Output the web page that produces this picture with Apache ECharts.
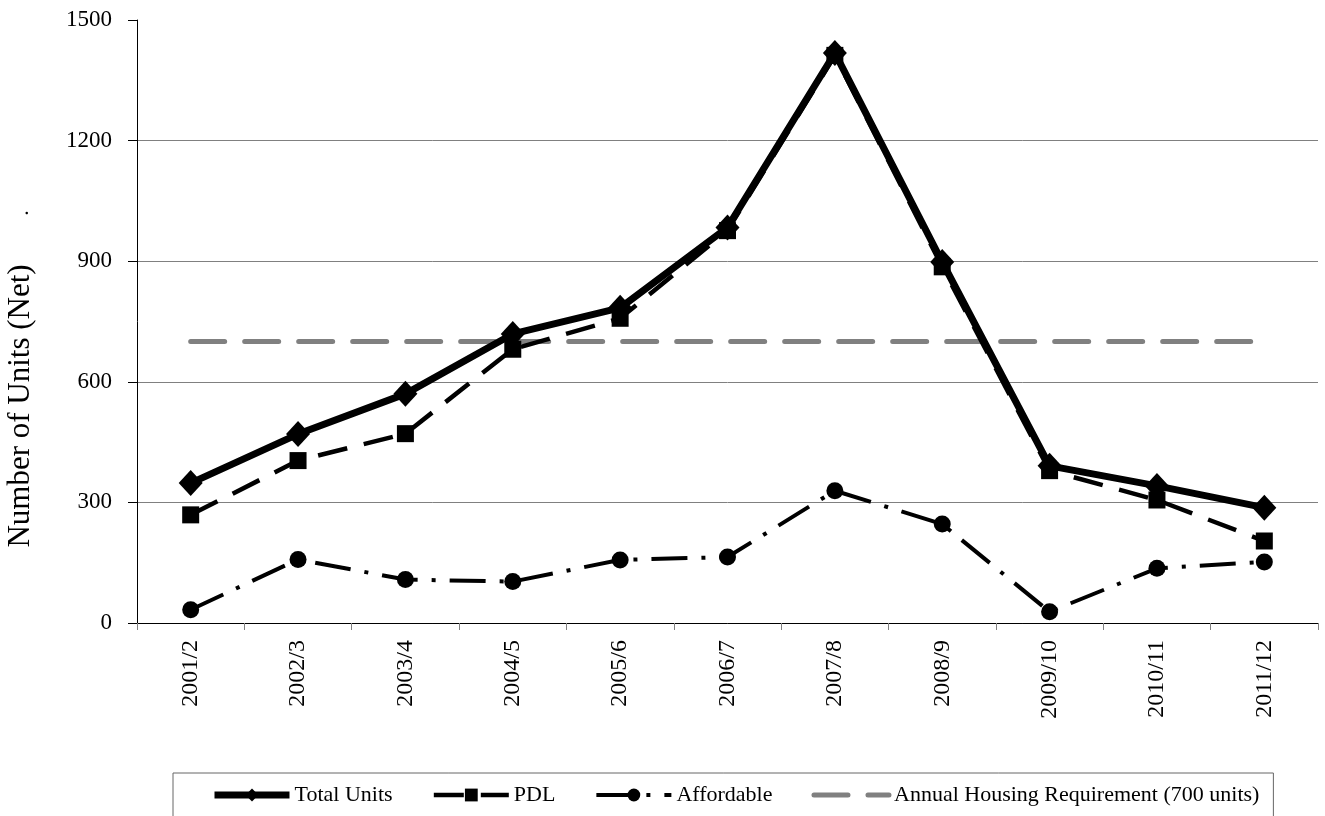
<!DOCTYPE html>
<html>
<head>
<meta charset="utf-8">
<script src="https://cdn.jsdelivr.net/npm/echarts@6/dist/echarts.min.js"></script>
<style>
html,body{margin:0;padding:0;background:#fff;}
#chart{width:1325px;height:816px;}
</style>
</head>
<body>
<div id="chart"></div>
<script>
var categories = ['2001/2','2002/3','2003/4','2004/5','2005/6','2006/7','2007/8','2008/9','2009/10','2010/11','2011/12'];
var totalUnits = [348, 470, 570, 719, 784, 984, 1418, 898, 391, 341, 287];
var pdl = [269, 404, 471, 681, 758, 976, 1412, 886, 379, 306, 204];
var affordable = [33, 158, 108, 103, 157, 164, 329, 246, 28, 136, 152];
var requirement = [700, 700, 700, 700, 700, 700, 700, 700, 700, 700, 700];
var yTicks = [0, 300, 600, 900, 1200, 1500];
var yAxisTitle = 'Number of Units (Net)';

var serif = '"Liberation Serif", "Times New Roman", serif';
var totalStyle = { color: '#000', width: 7 };
var pdlStyle = { color: '#000', width: 4.5, type: [30, 17] };
var affStyle = { color: '#000', width: 4, type: [36, 14, 4, 14] };
var reqStyle = { color: '#808080', width: 5, type: [34, 20], cap: 'round' };

var chart = echarts.init(document.getElementById('chart'));
chart.setOption({
  animation: false,
  backgroundColor: '#ffffff',
  grid: { left: 137, right: 7, top: 20, bottom: 193, containLabel: false },
  graphic: [
    { type: 'text', x: 21, y: 406, rotation: Math.PI / 2,
      style: { text: yAxisTitle, font: '31px ' + serif, fill: '#000', textAlign: 'center', textVerticalAlign: 'middle' } },
    { type: 'text', x: 22, y: 213, rotation: Math.PI / 2,
      style: { text: '.', font: '22px ' + serif, fill: '#000', textAlign: 'center', textVerticalAlign: 'middle' } }
  ],
  xAxis: {
    type: 'category',
    data: categories,
    boundaryGap: true,
    axisLine: { lineStyle: { color: '#000', width: 1 } },
    axisTick: { show: true, length: 7, lineStyle: { color: '#808080' } },
    axisLabel: { rotate: 90, margin: 17, color: '#000', fontFamily: serif, fontSize: 24 },
    splitLine: { show: false }
  },
  yAxis: {
    type: 'value',
    min: yTicks[0],
    max: yTicks[yTicks.length - 1],
    interval: yTicks[1] - yTicks[0],
    axisLine: { show: true, lineStyle: { color: '#000', width: 1 } },
    axisTick: { show: true, length: 9, lineStyle: { color: '#000' } },
    axisLabel: { margin: 25, color: '#000', fontFamily: serif, fontSize: 23,
      formatter: function (v) { return String(v); } },
    splitLine: { show: true, showMaxLine: false, lineStyle: { color: '#808080', width: 1 } }
  },
  legend: {
    left: 173, top: 773,
    padding: [11, 14, 11, 38],
    itemGap: 39,
    itemWidth: 75, itemHeight: 16,
    borderColor: '#666', borderWidth: 1,
    textStyle: { fontFamily: serif, fontSize: 22, color: '#000' },
    data: [
      { name: 'Total Units', lineStyle: totalStyle },
      { name: 'PDL', lineStyle: pdlStyle },
      { name: 'Affordable', lineStyle: affStyle },
      { name: 'Annual Housing Requirement (700 units)', lineStyle: reqStyle, itemStyle: { opacity: 0 } }
    ]
  },
  series: [
    { name: 'Annual Housing Requirement (700 units)', type: 'line', data: requirement,
      symbol: 'none', z: 1,
      lineStyle: reqStyle,
      itemStyle: { color: '#808080' } },
    { name: 'Affordable', type: 'line', data: affordable,
      symbol: 'circle', symbolSize: 17, z: 3,
      lineStyle: affStyle,
      itemStyle: { color: '#000' } },
    { name: 'PDL', type: 'line', data: pdl,
      symbol: 'rect', symbolSize: 17, z: 4,
      lineStyle: pdlStyle,
      itemStyle: { color: '#000' } },
    { name: 'Total Units', type: 'line', data: totalUnits,
      symbol: 'diamond', symbolSize: [24, 26], z: 5,
      lineStyle: totalStyle,
      itemStyle: { color: '#000' } }
  ]
});
</script>
</body>
</html>
